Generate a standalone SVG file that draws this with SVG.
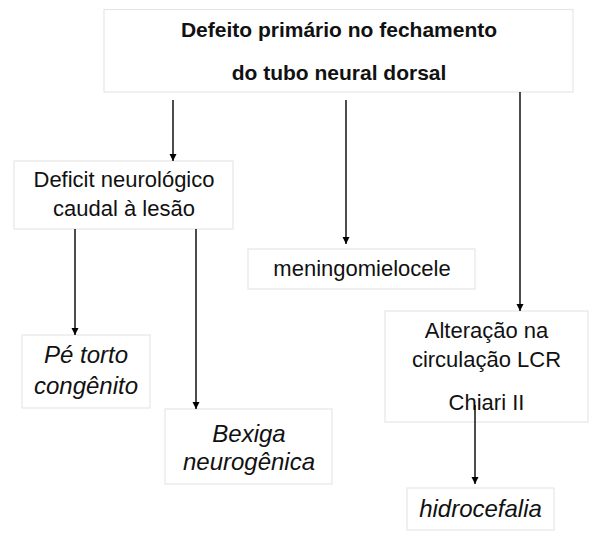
<svg xmlns="http://www.w3.org/2000/svg" width="591" height="549" viewBox="0 0 591 549">
<defs>
<style>
.box{fill:#ffffff;stroke:#e6e6e6;stroke-width:1.2}
.t{font-family:"Liberation Sans",Arial,sans-serif;font-size:22px;fill:#111;text-anchor:middle}
.b{font-weight:bold;font-size:21px}
.i{font-style:italic;font-size:24px}
.c{stroke:#000;stroke-width:1.4;fill:none;marker-end:url(#ah)}
</style>
<marker id="ah" markerUnits="userSpaceOnUse" markerWidth="8" markerHeight="8" refX="7.5" refY="3.75" orient="auto">
<path d="M0,0 L7.5,3.75 L0,7.5 z" fill="#000"/>
</marker>
</defs>
<rect width="591" height="549" fill="#ffffff"/>
<g id="n_top">
<rect class="box" x="104" y="9.5" width="469" height="82.5"/>
<text class="t b" x="339" y="37">Defeito primário no fechamento</text>
<text class="t b" x="339" y="80">do tubo neural dorsal</text>
</g>
<g id="n_deficit">
<rect class="box" x="14" y="161" width="219" height="68"/>
<text class="t" x="124" y="187">Deficit neurológico</text>
<text class="t" x="124" y="216">caudal à lesão</text>
</g>
<g id="n_mmc">
<rect class="box" x="248" y="249" width="227" height="40"/>
<text class="t" x="362" y="276">meningomielocele</text>
</g>
<g id="n_alt">
<rect class="box" x="385" y="311" width="203" height="111"/>
<text class="t" x="486.5" y="338">Alteração na</text>
<text class="t" x="486.5" y="367">circulação LCR</text>
<text class="t" x="486.5" y="410">Chiari II</text>
</g>
<g id="n_pe">
<rect class="box" x="22" y="335" width="128" height="73"/>
<text class="t i" x="86" y="363">Pé torto</text>
<text class="t i" x="86" y="394">congênito</text>
</g>
<g id="n_bexiga">
<rect class="box" x="165" y="409" width="167" height="75"/>
<text class="t i" x="249" y="442">Bexiga</text>
<text class="t i" x="249" y="470">neurogênica</text>
</g>
<g id="n_hidro">
<rect class="box" x="407" y="488" width="147" height="42"/>
<text class="t i" x="480.5" y="517">hidrocefalia</text>
</g>
<g id="connectors">
<line class="c" x1="173" y1="100" x2="173" y2="161"/>
<line class="c" x1="346" y1="100" x2="346" y2="244"/>
<line class="c" x1="520" y1="92" x2="520" y2="311"/>
<line class="c" x1="75" y1="229" x2="75" y2="335"/>
<line class="c" x1="196" y1="229" x2="196" y2="409"/>
<line class="c" x1="475" y1="405" x2="475" y2="484"/>
</g>
</svg>
